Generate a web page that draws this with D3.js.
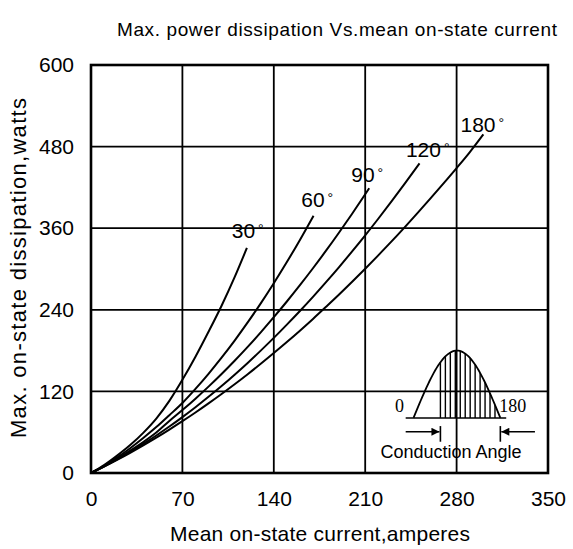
<!DOCTYPE html>
<html><head><meta charset="utf-8">
<script src="https://cdn.jsdelivr.net/npm/d3@7"></script>
<style>body{margin:0;background:#fff}svg{display:block}</style>
</head><body>
<svg id="c" width="573" height="549"></svg>
<script>
const xTicks = [0, 70, 140, 210, 280, 350];
const yTicks = [0, 120, 240, 360, 480, 600];
const angles = ["30", "60", "90", "120", "180"];
const current30  = [0, 10, 20, 30, 40, 50, 60, 70, 80, 90, 100, 110, 119.4];
const power30    = [0, 11.5, 25.5, 41, 59, 80, 106, 137, 171, 207.7, 246, 288, 331];
const current60  = [0, 10, 20, 30, 40, 50, 60, 70, 80, 90, 100, 110, 120, 130, 140, 150, 160, 170.4];
const power60    = [0, 10.5, 22.8, 36.5, 51.5, 67.5, 85, 103, 123.7, 145.9, 169.6, 194.7, 221.4, 249.5, 279.1, 310.2, 342.8, 378.3];
const current90  = [0, 10, 20, 30, 40, 50, 60, 70, 80, 90, 100, 110, 120, 130, 140, 150, 160, 170, 180, 190, 200, 213.1];
const power90    = [0, 9.8, 20.8, 32.8, 45.5, 59.5, 76.5, 92.5, 109.3, 127, 145.6, 165.1, 185.5, 206.9, 229.1, 252.2, 276.2, 301.1, 326.9, 353.7, 381.3, 418.8];
const current120 = [0, 10, 20, 30, 40, 50, 60, 70, 80, 90, 100, 110, 120, 130, 140, 150, 160, 170, 180, 190, 200, 210, 220, 230, 240, 251.6];
const power120   = [0, 9.6, 20, 31, 42.8, 55.2, 68.3, 82.2, 96.7, 112, 127.9, 144.6, 161.9, 180, 198.7, 218.2, 238.3, 259.1, 280.7, 302.9, 325.9, 349.5, 373.9, 399, 424.7, 455.4];
const current180 = [0, 10, 20, 30, 40, 50, 60, 70, 80, 90, 100, 110, 120, 130, 140, 150, 160, 170, 180, 190, 200, 210, 220, 230, 240, 250, 260, 270, 280, 290, 300.5];
const power180   = [0, 9.4, 19.3, 29.7, 40.6, 52, 63.9, 76.2, 89, 102.4, 116.2, 130.5, 145.3, 160.6, 176.4, 192.6, 209.3, 226.6, 244.4, 262.5, 281.2, 300.4, 320.1, 340.2, 360.9, 382.1, 403.8, 425.9, 448.4, 471.6, 498];
// label anchor positions in data units (current, power)
const labelX = [107.8, 161, 199.3, 241.2, 283];
const labelY = [345, 391.6, 428.4, 464.3, 502];

const series = [
  {c: current30, p: power30}, {c: current60, p: power60}, {c: current90, p: power90},
  {c: current120, p: power120}, {c: current180, p: power180}
];

const L = 91, R = 548, T = 65, B = 473;
const svg = d3.select("#c");
const x = d3.scaleLinear().domain([0, 350]).range([L, R]);
const y = d3.scaleLinear().domain([0, 600]).range([B, T]);
const sans = "'Liberation Sans', Arial, sans-serif";
const serif = "'Liberation Serif', 'Times New Roman', serif";

// grid
const g = svg.append("g");
g.selectAll(".vx").data(xTicks.slice(1, -1)).enter().append("line")
  .attr("x1", d => x(d)).attr("x2", d => x(d)).attr("y1", y(0)).attr("y2", y(600))
  .attr("stroke", "#000").attr("stroke-width", 1.8);
g.selectAll(".hy").data(yTicks.slice(1, -1)).enter().append("line")
  .attr("y1", d => y(d)).attr("y2", d => y(d)).attr("x1", x(0)).attr("x2", x(350))
  .attr("stroke", "#000").attr("stroke-width", 1.8);

// axes (labels only, no tick marks)
const xAxis = svg.append("g").attr("transform", `translate(0,${B})`)
  .call(d3.axisBottom(x).tickValues(xTicks).tickSize(0).tickPadding(18).tickFormat(d3.format("d")));
const yAxis = svg.append("g").attr("transform", `translate(${L},0)`)
  .call(d3.axisLeft(y).tickValues(yTicks).tickSize(0).tickPadding(17).tickFormat(d3.format("d")));
[xAxis, yAxis].forEach(a => {
  a.select(".domain").remove();
  a.selectAll("text").attr("font-family", sans).attr("font-size", 21).attr("fill", "#000");
});

// frame
svg.append("rect").attr("x", x(0)).attr("y", y(600)).attr("width", x(350) - x(0)).attr("height", y(0) - y(600))
  .attr("fill", "none").attr("stroke", "#000").attr("stroke-width", 2.6);

// curves
const line = d3.line().x(d => x(d[0])).y(d => y(d[1])).curve(d3.curveMonotoneX);
series.forEach(s => {
  svg.append("path").datum(s.c.map((c, i) => [c, s.p[i]]))
    .attr("d", line).attr("fill", "none").attr("stroke", "#000").attr("stroke-width", 2);
});

// angle labels
angles.forEach((a, i) => {
  const t = svg.append("text").attr("x", x(labelX[i])).attr("y", y(labelY[i]))
    .attr("font-family", sans).attr("font-size", 21).attr("fill", "#000").text(a);
  t.append("tspan").attr("dx", 3).attr("dy", -4).attr("font-size", 14).text("°");
});

// inset: conduction angle sketch (data units)
const insetStart = 247, insetEnd = 313.5, insetPeak = 180, insetBase = 81;
const hatchStart = 267.6, hatchStep = 3.8;
const insetAxisL = 241, insetAxisR = 318;
const arrowY = 60.7, tickTop = 69, tickBot = 46;
const bell = c => insetBase + (insetPeak - insetBase) * Math.sin(Math.PI * (c - insetStart) / (insetEnd - insetStart));
const bellPts = d3.range(0, 61).map(i => insetStart + (insetEnd - insetStart) * i / 60).map(c => [c, bell(c)]);
svg.append("path").datum(bellPts).attr("d", d3.line().x(d => x(d[0])).y(d => y(d[1])))
  .attr("fill", "none").attr("stroke", "#000").attr("stroke-width", 1.8);
svg.append("line").attr("x1", x(insetAxisL)).attr("x2", x(insetAxisR)).attr("y1", y(insetBase)).attr("y2", y(insetBase))
  .attr("stroke", "#000").attr("stroke-width", 1.5);
const hatch = d3.range(hatchStart, insetEnd - 1, hatchStep);
svg.selectAll(".hatch").data(hatch).enter().append("line")
  .attr("x1", d => x(d)).attr("x2", d => x(d)).attr("y1", y(insetBase)).attr("y2", d => y(bell(d)))
  .attr("stroke", "#000").attr("stroke-width", 1.4);
[hatchStart, insetEnd].forEach(c => {
  svg.append("line").attr("x1", x(c)).attr("x2", x(c)).attr("y1", y(tickTop)).attr("y2", y(tickBot))
    .attr("stroke", "#000").attr("stroke-width", 1.6);
});
svg.append("defs").append("marker").attr("id", "ah").attr("viewBox", "0 0 10 10").attr("refX", 10).attr("refY", 5)
  .attr("markerWidth", 10).attr("markerHeight", 8).attr("markerUnits", "userSpaceOnUse").attr("orient", "auto")
  .append("path").attr("d", "M0,0 L10,5 L0,10 Z").attr("fill", "#000");
svg.append("line").attr("x1", x(241)).attr("x2", x(hatchStart) - 1).attr("y1", y(arrowY)).attr("y2", y(arrowY))
  .attr("stroke", "#000").attr("stroke-width", 1.6).attr("marker-end", "url(#ah)");
svg.append("line").attr("x1", x(340)).attr("x2", x(insetEnd) + 1).attr("y1", y(arrowY)).attr("y2", y(arrowY))
  .attr("stroke", "#000").attr("stroke-width", 1.6).attr("marker-end", "url(#ah)");
svg.append("text").attr("x", x(239.8)).attr("y", y(90)).attr("text-anchor", "end")
  .attr("font-family", serif).attr("font-size", 18).text("0");
svg.append("text").attr("x", x(insetEnd) - 1).attr("y", y(90))
  .attr("font-family", serif).attr("font-size", 18).text("180");
svg.append("text").attr("x", 451).attr("y", y(22)).attr("text-anchor", "middle")
  .attr("font-family", sans).attr("font-size", 18).text("Conduction Angle");

// titles
svg.append("text").attr("x", 117).attr("y", 36)
  .attr("font-family", sans).attr("font-size", 19).attr("textLength", 440).attr("lengthAdjust", "spacing")
  .text("Max. power dissipation Vs.mean on-state current");
svg.append("text").attr("x", 170).attr("y", 541)
  .attr("font-family", sans).attr("font-size", 21).attr("textLength", 300).attr("lengthAdjust", "spacing")
  .text("Mean on-state current,amperes");
svg.append("text").attr("transform", `translate(26,438) rotate(-90)`)
  .attr("font-family", sans).attr("font-size", 22).attr("textLength", 340).attr("lengthAdjust", "spacing")
  .text("Max. on-state dissipation,watts");
</script>
</body></html>
